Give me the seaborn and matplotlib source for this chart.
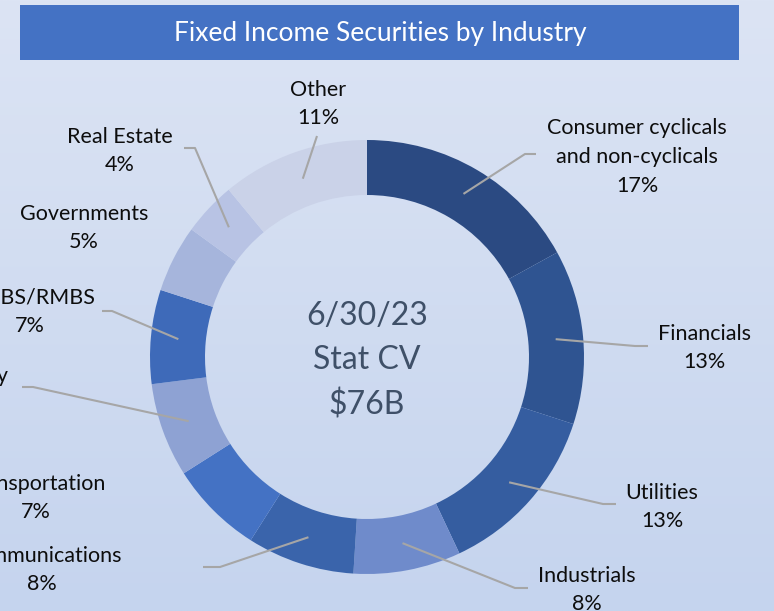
import numpy as np
import matplotlib
matplotlib.use("Agg")
import matplotlib.pyplot as plt
import seaborn as sns
from matplotlib.patches import Rectangle
from matplotlib.colors import to_rgb

# ---- data ----
categories = ["Consumer cyclicals\nand non-cyclicals", "Financials", "Utilities",
              "Industrials", "Communications", "Transportation", "Energy",
              "CMBS/RMBS", "Governments", "Real Estate", "Other"]
values = [17, 13, 13, 8, 8, 7, 7, 7, 5, 4, 11]
slice_colors = ["#2B4A82", "#2F5491", "#355DA0", "#6F8BCB", "#3A64AB", "#4472C4",
                "#8EA2D3", "#3E6AB9", "#A6B5DC", "#B8C3E4", "#CAD2E8"]
title = "Fixed Income Securities by Industry"
center_text = "6/30/23\nStat CV\n$76B"

# ---- layout (pixels) ----
W, H = 774, 611
cx, cy, r_out, r_in = 367, 357, 217, 162
label_pos = [(637, 157), (704, 348), (662, 507), (587, 590), (42, 570), (36, 498),
             (-25, 390), (30, 312), (84, 228), (120, 151), (318, 104)]
leader_pts = [[(525, 154), (536, 154)], [(635, 346), (648, 346)], [(603, 504), (616, 504)],
              [(515, 588), (528, 588)], [(220, 567), (203, 567)], None,
              [(33, 387), (22, 387)], [(112, 311), (102, 311)], None,
              [(195, 148), (184, 148)], [(317, 136)]]

sns.set_theme(style="white")
plt.rcParams["font.family"] = ["Lato", "DejaVu Sans"]

fig = plt.figure(figsize=(W / 100, H / 100), dpi=100)
ax = fig.add_axes([0, 0, 1, 1])

# background gradient
top, bot = np.array(to_rgb("#DCE4F4")), np.array(to_rgb("#C5D4EE"))
t = np.linspace(0, 1, 256)[:, None, None]
grad = np.repeat(top * (1 - t) + bot * t, 2, axis=1)
ax.imshow(grad, extent=[0, W, H, 0], aspect="auto", zorder=0)

# title bar
ax.add_patch(Rectangle((20, 5), 719, 55, facecolor="#4472C4", edgecolor="none", zorder=1))
ax.text(380, 33, title, color="white", fontsize=19, ha="center", va="center", zorder=2)

# donut (inverted y axis -> counterclock=True draws clockwise on screen)
ax.pie(values, colors=slice_colors, startangle=-90, counterclock=True,
       radius=r_out, center=(cx, cy), frame=True,
       wedgeprops=dict(width=r_out - r_in, edgecolor="none"))
ax.set_xlim(0, W)
ax.set_ylim(H, 0)
ax.set_aspect("equal")
ax.axis("off")

ax.text(cx, cy + 4, center_text, color="#3F5068", fontsize=23, ha="center", va="center",
        multialignment="center", linespacing=1.58, zorder=5)

# labels + leader lines
cum = np.cumsum([0] + values[:-1])
total = sum(values)
r_mid = (r_out + r_in) / 2
for i, (cat, v) in enumerate(zip(categories, values)):
    ang = np.deg2rad(-90 + 360 * (cum[i] + v / 2) / total)
    sx, sy = cx + r_mid * np.cos(ang), cy + r_mid * np.sin(ang)
    if leader_pts[i] is not None:
        xs, ys = zip(*([(sx, sy)] + leader_pts[i]))
        ax.plot(xs, ys, color="#A6A6A6", lw=1.5, zorder=6, solid_capstyle="butt")
    lx, ly = label_pos[i]
    ax.text(lx, ly, f"{cat}\n{v}%", fontsize=15.5, color="#0D0D0D", ha="center",
            va="center", multialignment="center", linespacing=1.55, zorder=7)

fig.savefig("out.png", dpi=100)
